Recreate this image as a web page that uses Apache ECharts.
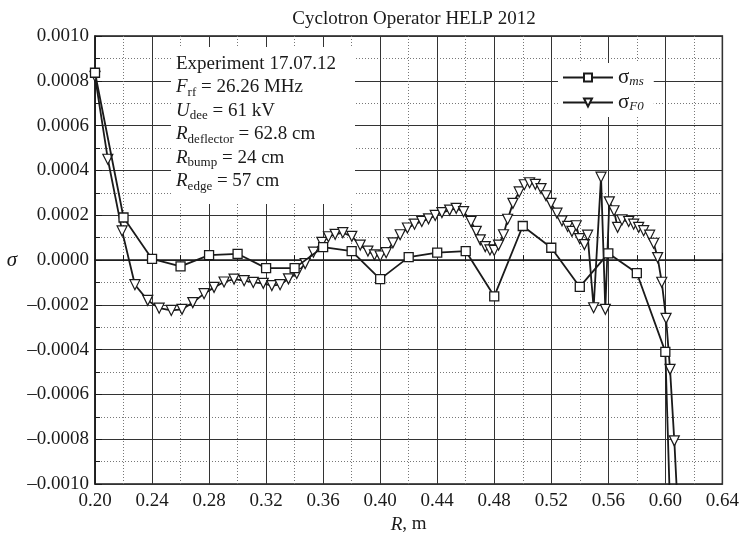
<!DOCTYPE html>
<html>
<head>
<meta charset="utf-8">
<script src="https://cdn.jsdelivr.net/npm/echarts@6/dist/echarts.min.js"></script>
<style>
  html, body { margin: 0; padding: 0; background: #fff; }
  #grafico { width: 742px; height: 539px; }
</style>
</head>
<body>
<div id="grafico"></div>
<script>
// sigma_ms, sampled every 2 cm
var msR = [0.20, 0.22, 0.24, 0.26, 0.28, 0.30, 0.32, 0.34, 0.36, 0.38, 0.40,
  0.42, 0.44, 0.46, 0.48, 0.50, 0.52, 0.54, 0.56, 0.58, 0.60, 0.62];
var msSigma = [0.000836, 0.00019, 0.000005, -0.000028, 0.000022, 0.000028, -0.000036,
  -0.000036, 0.000058, 0.00004, -0.000085, 0.000013, 0.000033, 0.00004, -0.000162,
  0.000152, 0.000055, -0.00012, 0.00003, -0.000058, -0.00041, -0.0046];

// sigma_F0
var f0R = [0.200, 0.209, 0.219, 0.228, 0.237, 0.245, 0.2535, 0.261, 0.2686, 0.2765,
  0.2835, 0.2905, 0.2975, 0.3046, 0.311, 0.318, 0.324, 0.3298, 0.3357, 0.3415,
  0.3474, 0.3532, 0.3591, 0.3637, 0.3684, 0.3738, 0.3801, 0.3860, 0.3914, 0.3960,
  0.4000, 0.4042, 0.4089, 0.4140, 0.4191, 0.4241, 0.4292, 0.4339, 0.4386, 0.4433,
  0.4487, 0.4533, 0.4585, 0.4637, 0.4674, 0.4702, 0.4737, 0.4770, 0.4800, 0.4830,
  0.4865, 0.4894, 0.4931, 0.4975, 0.5011, 0.5048, 0.5088, 0.5128, 0.5163, 0.5198,
  0.5240, 0.5275, 0.5315, 0.5345, 0.5375, 0.5399, 0.5432, 0.5455, 0.5497, 0.5549,
  0.5579, 0.5607, 0.5640, 0.5665, 0.5696, 0.5743, 0.5778, 0.5813, 0.5848, 0.5890,
  0.5918, 0.5946, 0.5975, 0.6005, 0.6033, 0.6063, 0.609];
var f0Sigma = [0.00082, 0.00045, 0.00013, -0.00011, -0.00018, -0.000215, -0.000225, -0.00022, -0.00019, -0.00015,
  -0.000122, -0.000098, -0.000085, -0.000092, -0.0001, -0.000104, -0.000114, -0.00011, -0.000084, -0.00006,
  -0.000016, 0.000035, 0.000079, 0.000104, 0.000115, 0.000122, 0.000106, 0.000067, 0.00004, 0.000023,
  0.000018, 0.000033, 0.000077, 0.000113, 0.000143, 0.00016, 0.000172, 0.000184, 0.000199, 0.000212,
  0.000223, 0.000231, 0.000216, 0.000172, 0.000128, 0.00009, 0.00006, 0.000045, 0.000043, 0.000067,
  0.000113, 0.000182, 0.000253, 0.000304, 0.000336, 0.000345, 0.000338, 0.000319, 0.000287, 0.000253,
  0.000209, 0.000175, 0.00015, 0.000128, 0.000153, 0.000096, 0.000069, 0.000111, -0.000213, 0.00037,
  -0.00022, 0.00026, 0.00022, 0.000146, 0.000179, 0.000172, 0.00016, 0.000146, 0.000131, 0.000111,
  0.000075, 0.000011, -0.000099, -0.00026, -0.000488, -0.000807, -0.00115];

var xMin = 0.20, xMax = 0.64, xStep = 0.04;
var yMin = -0.0010, yMax = 0.0010, yStep = 0.0002;

var ink = '#1a1a1a';
var serif = '"Liberation Serif", "DejaVu Serif", serif';

var chartDom = document.getElementById('grafico');
var myChart = echarts.init(chartDom);
var option;

function pairs(xs, ys) {
  return xs.map(function (x, i) { return [x, ys[i]]; });
}

var subStyle = { fontFamily: serif, fontSize: 13, fontStyle: 'italic', color: ink, lineHeight: 14, verticalAlign: 'bottom' };
var subUp = { fontFamily: serif, fontSize: 13, color: ink, lineHeight: 14, verticalAlign: 'bottom' };
var mainIt = { fontFamily: serif, fontSize: 19, fontStyle: 'italic', color: ink, lineHeight: 23.5 };

option = {
  backgroundColor: '#fff',
  animation: false,
  textStyle: { fontFamily: serif, color: ink },
  title: {
    text: 'Cyclotron Operator HELP 2012',
    left: 409,
    textAlign: 'center',
    top: 5,
    textStyle: { fontFamily: serif, fontSize: 19, fontWeight: 'normal', color: ink }
  },
  grid: {
    left: 95, right: 18, top: 36, bottom: 49,
    show: true, borderColor: ink, borderWidth: 1.5, backgroundColor: 'transparent'
  },
  legend: {
    data: ['ms', 'F0'],
    orient: 'vertical',
    left: 558,
    top: 63,
    itemWidth: 50,
    itemHeight: 10,
    itemGap: 4,
    padding: [4, 10, 4, 4],
    backgroundColor: '#fff',
    formatter: function (name) {
      return '{s|σ}{b|' + name + '}';
    },
    textStyle: {
      fontFamily: serif, fontSize: 19, color: ink,
      rich: {
        s: { fontFamily: serif, fontSize: 21, color: ink, lineHeight: 21 },
        b: subStyle
      }
    }
  },
  graphic: [
    { type: 'rect', z: 1, shape: { x: 171, y: 47, width: 184, height: 157 }, style: { fill: '#fff' } },
    {
      type: 'text', z: 1, x: 176, y: 52,
      style: {
        text: 'Experiment 17.07.12\n' +
          '{i|F}{u|rf}{n| = 26.26 MHz}\n' +
          '{i|U}{u|dee}{n| = 61 kV}\n' +
          '{i|R}{u|deflector}{n| = 62.8 cm}\n' +
          '{i|R}{u|bump}{n| = 24 cm}\n' +
          '{i|R}{u|edge}{n| = 57 cm}',
        fontFamily: serif, fontSize: 19, fill: ink, lineHeight: 23.5,
        rich: {
          i: mainIt,
          u: subUp,
          n: { fontFamily: serif, fontSize: 19, color: ink, lineHeight: 23.5 }
        }
      }
    }
  ],
  xAxis: {
    type: 'value',
    min: xMin, max: xMax, interval: xStep,
    name: '{i|R}, m',
    nameLocation: 'middle',
    nameGap: 22,
    nameTextStyle: {
      fontFamily: serif, fontSize: 19, color: ink,
      rich: { i: { fontFamily: serif, fontSize: 19, fontStyle: 'italic', color: ink } }
    },
    axisLine: { show: true, lineStyle: { color: ink, width: 1.5 } },
    axisTick: { show: true, inside: true, length: 7, lineStyle: { color: ink } },
    minorTick: { show: true, splitNumber: 2, length: 5, lineStyle: { color: ink } },
    axisLabel: {
      margin: 7, fontFamily: serif, fontSize: 19, color: ink,
      formatter: function (v) { return v.toFixed(2); }
    },
    splitLine: { show: true, lineStyle: { color: '#333', width: 1 } },
    minorSplitLine: { show: true, lineStyle: { color: '#777', width: 1, type: [1, 2] } }
  },
  yAxis: {
    type: 'value',
    min: yMin, max: yMax, interval: yStep,
    name: 'σ',
    nameLocation: 'middle',
    nameRotate: 0,
    nameGap: 78,
    nameTextStyle: { fontFamily: serif, fontSize: 21, fontStyle: 'italic', color: ink },
    axisLine: { show: true, lineStyle: { color: ink, width: 1.5 } },
    axisTick: { show: true, inside: true, length: 7, lineStyle: { color: ink } },
    minorTick: { show: true, splitNumber: 2, length: 5, lineStyle: { color: ink } },
    axisLabel: {
      margin: 6, fontFamily: serif, fontSize: 19, color: ink,
      formatter: function (v) {
        var s = Math.abs(v).toFixed(4);
        return (v < -1e-9 ? '\u2013' : '') + s;
      }
    },
    splitLine: { show: true, lineStyle: { color: '#333', width: 1 } },
    minorSplitLine: { show: true, lineStyle: { color: '#777', width: 1, type: [1, 2] } }
  },
  series: [
    {
      name: 'ms',
      type: 'line',
      data: pairs(msR, msSigma),
      symbol: 'rect',
      symbolSize: 9,
      showAllSymbol: true,
      lineStyle: { color: ink, width: 1.8 },
      itemStyle: { color: '#fff', borderColor: ink, borderWidth: 1.3 },
      z: 3
    },
    {
      name: 'F0',
      type: 'line',
      data: pairs(f0R, f0Sigma),
      symbol: 'triangle',
      symbolRotate: 180,
      symbolSize: 10,
      showAllSymbol: true,
      lineStyle: { color: ink, width: 1.8 },
      itemStyle: { color: '#fff', borderColor: ink, borderWidth: 1.2 },
      z: 2
    }
  ]
};

option && myChart.setOption(option);
</script>
</body>
</html>
